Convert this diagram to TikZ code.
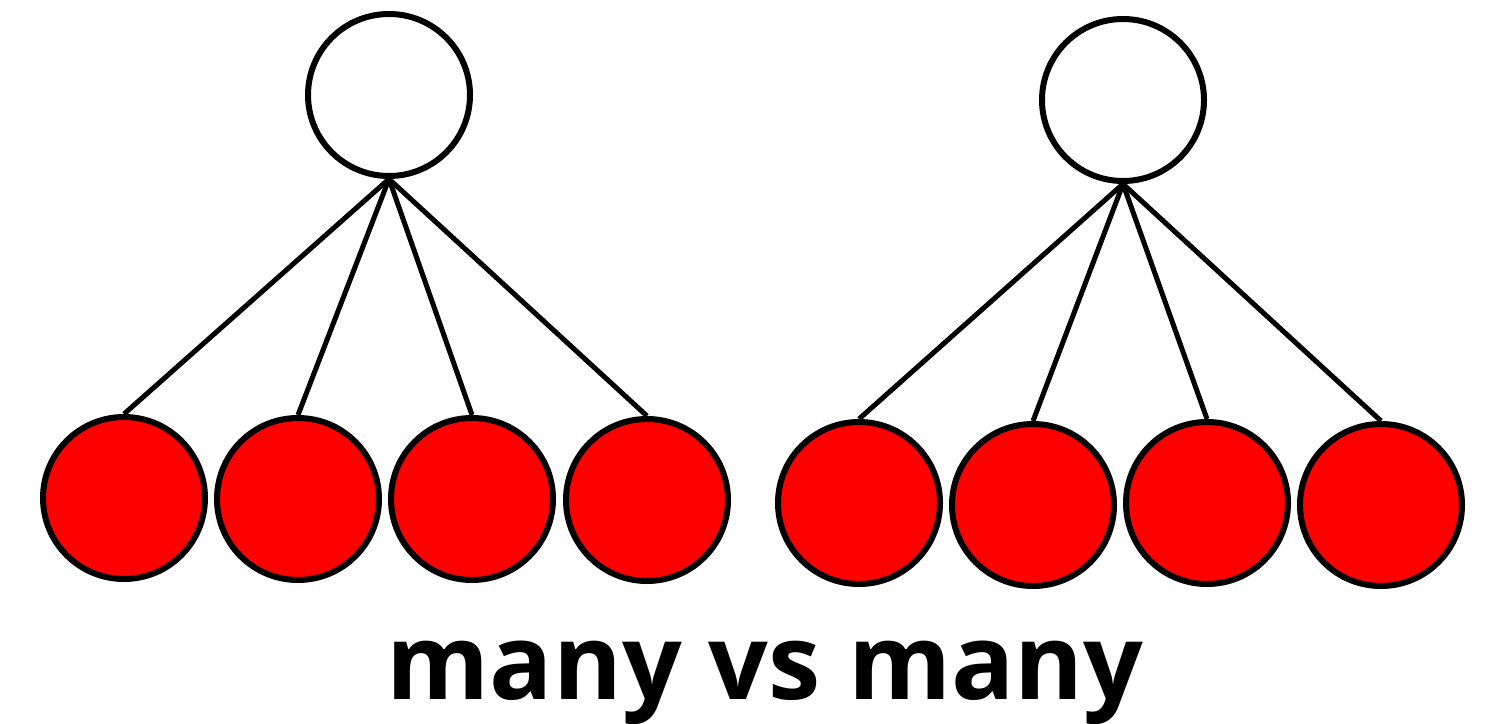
\documentclass[tikz,border=0pt]{standalone}
\usepackage{fontspec}
\setmainfont{Open Sans}
\begin{document}
\begin{tikzpicture}[x=1pt,y=-1pt,
  topball/.style={circle,draw=black,line width=6pt,fill=white,minimum size=162pt,inner sep=0pt},
  redball/.style={circle,draw=black,line width=6pt,fill=red,minimum size=162pt,inner sep=0pt},
  link/.style={line width=5pt,draw=black}]
\useasboundingbox (0,0) rectangle (1501,723);
\node[topball] (L) at (389,95) {};
\node[topball] (R) at (1123,100) {};
\node[redball] (l1) at (124,498) {};
\node[redball] (l2) at (298,499) {};
\node[redball] (l3) at (472,499) {};
\node[redball] (l4) at (647,500) {};
\node[redball] (r1) at (859,503) {};
\node[redball] (r2) at (1033,505) {};
\node[redball] (r3) at (1207,503) {};
\node[redball] (r4) at (1381,505) {};
\foreach \n in {l1,l2,l3,l4} \draw[link] (L.south) -- (\n.north);
\foreach \n in {r1,r2,r3,r4} \draw[link] (R.south) -- (\n.north);
\node[anchor=base,inner sep=0pt,font=\fontsize{105}{108}\selectfont\bfseries] (t) at (765,699) {many vs many};
\end{tikzpicture}
\end{document}
